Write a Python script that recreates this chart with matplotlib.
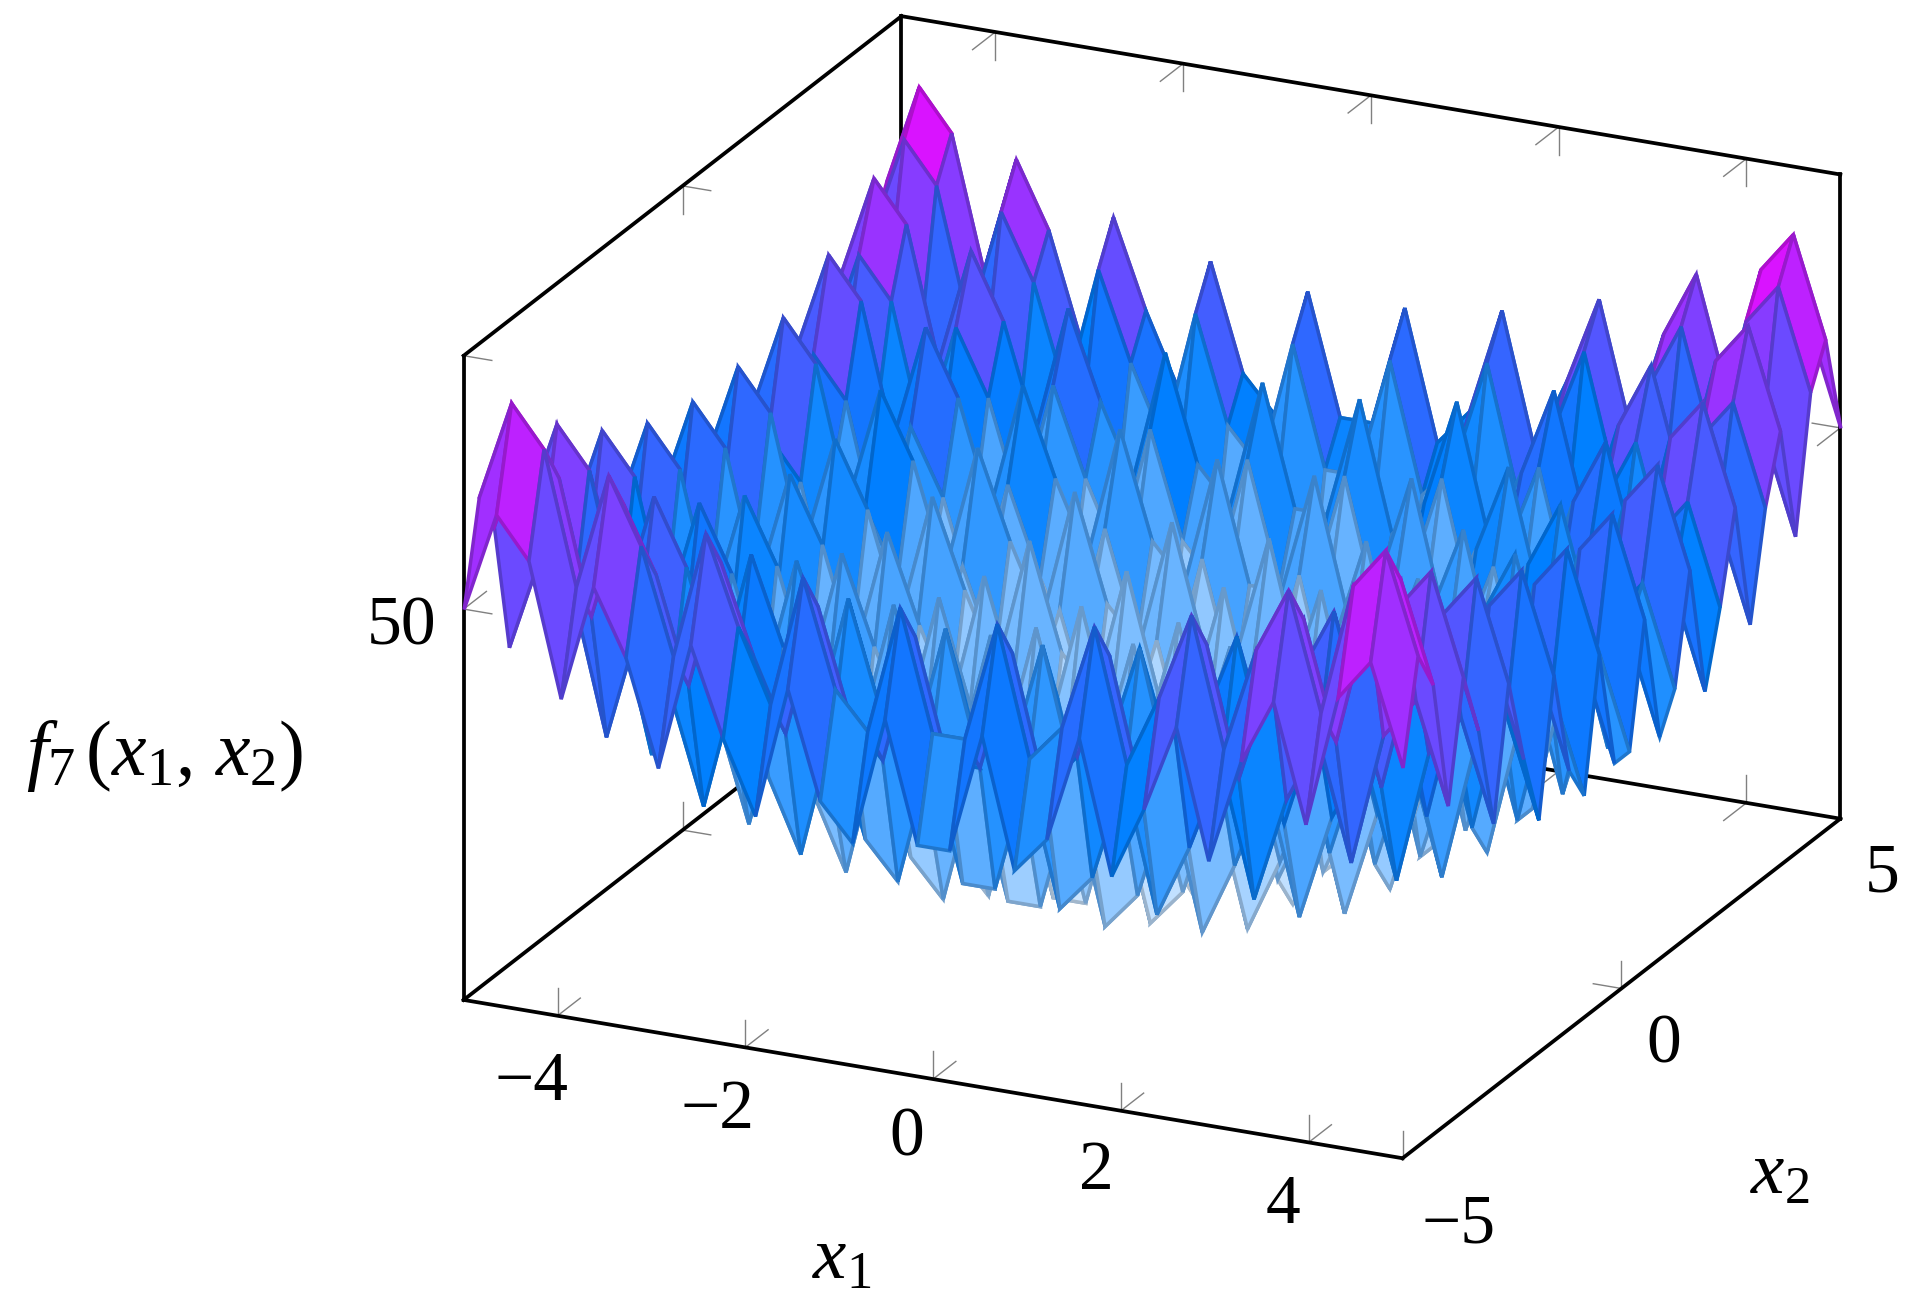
import matplotlib
matplotlib.use('Agg')
import matplotlib.pyplot as plt
from matplotlib.colors import LinearSegmentedColormap
from mpl_toolkits.mplot3d.art3d import Poly3DCollection
import numpy as np

plt.rcParams['mathtext.fontset'] = 'custom'
plt.rcParams['mathtext.rm'] = 'Liberation Serif'
plt.rcParams['mathtext.it'] = 'Liberation Serif:italic'
plt.rcParams['font.family'] = ['Liberation Serif', 'DejaVu Serif']

W, H = 1911, 1315

x1_grid = [-5.0, -4.655, -4.31, -3.966, -3.621, -3.276, -2.931, -2.586, -2.241, -1.897,
           -1.552, -1.207, -0.862, -0.517, -0.172, 0.172, 0.517, 0.862, 1.207, 1.552,
           1.897, 2.241, 2.586, 2.931, 3.276, 3.621, 3.966, 4.31, 4.655, 5.0]
x2_grid = list(x1_grid)

# surface heights, one row per x2 value
f7_rows = [
    [50.0,62.3,57.3,41.0,55.4,47.4,34.5,50.3,39.5,30.6,46.9,33.8,29.3,45.2,30.4,30.4,45.2,29.3,33.8,46.9,30.6,39.5,50.3,34.5,47.4,55.4,41.0,57.3,62.3,50.0],
    [62.3,74.6,69.6,53.3,67.7,59.7,46.8,62.6,51.8,42.9,59.2,46.1,41.6,57.5,42.7,42.7,57.5,41.6,46.1,59.2,42.9,51.8,62.6,46.8,59.7,67.7,53.3,69.6,74.6,62.3],
    [57.3,69.6,64.6,48.3,62.7,54.7,41.8,57.6,46.8,37.9,54.2,41.1,36.6,52.5,37.7,37.7,52.5,36.6,41.1,54.2,37.9,46.8,57.6,41.8,54.7,62.7,48.3,64.6,69.6,57.3],
    [41.0,53.3,48.3,32.0,46.4,38.4,25.5,41.3,30.5,21.6,37.9,24.8,20.3,36.2,21.4,21.4,36.2,20.3,24.8,37.9,21.6,30.5,41.3,25.5,38.4,46.4,32.0,48.3,53.3,41.0],
    [55.4,67.7,62.7,46.4,60.8,52.8,39.9,55.7,44.9,36.0,52.3,39.2,34.7,50.6,35.8,35.8,50.6,34.7,39.2,52.3,36.0,44.9,55.7,39.9,52.8,60.8,46.4,62.7,67.7,55.4],
    [47.4,59.7,54.7,38.4,52.8,44.8,31.9,47.7,36.9,28.0,44.3,31.2,26.7,42.6,27.8,27.8,42.6,26.7,31.2,44.3,28.0,36.9,47.7,31.9,44.8,52.8,38.4,54.7,59.7,47.4],
    [34.5,46.8,41.8,25.5,39.9,31.9,19.0,34.8,24.0,15.1,31.4,18.3,13.8,29.7,14.9,14.9,29.7,13.8,18.3,31.4,15.1,24.0,34.8,19.0,31.9,39.9,25.5,41.8,46.8,34.5],
    [50.3,62.6,57.6,41.3,55.7,47.7,34.8,50.6,39.8,30.9,47.2,34.1,29.6,45.5,30.7,30.7,45.5,29.6,34.1,47.2,30.9,39.8,50.6,34.8,47.7,55.7,41.3,57.6,62.6,50.3],
    [39.5,51.8,46.8,30.5,44.9,36.9,24.0,39.8,29.0,20.1,36.4,23.3,18.8,34.7,19.9,19.9,34.7,18.8,23.3,36.4,20.1,29.0,39.8,24.0,36.9,44.9,30.5,46.8,51.8,39.5],
    [30.6,42.9,37.9,21.6,36.0,28.0,15.1,30.9,20.1,11.2,27.5,14.4,9.9,25.8,11.0,11.0,25.8,9.9,14.4,27.5,11.2,20.1,30.9,15.1,28.0,36.0,21.6,37.9,42.9,30.6],
    [46.9,59.2,54.2,37.9,52.3,44.3,31.4,47.2,36.4,27.5,43.8,30.7,26.2,42.1,27.3,27.3,42.1,26.2,30.7,43.8,27.5,36.4,47.2,31.4,44.3,52.3,37.9,54.2,59.2,46.9],
    [33.8,46.1,41.1,24.8,39.2,31.2,18.3,34.1,23.3,14.4,30.7,17.6,13.1,29.0,14.2,14.2,29.0,13.1,17.6,30.7,14.4,23.3,34.1,18.3,31.2,39.2,24.8,41.1,46.1,33.8],
    [29.3,41.6,36.6,20.3,34.7,26.7,13.8,29.6,18.8,9.9,26.2,13.1,8.6,24.5,9.7,9.7,24.5,8.6,13.1,26.2,9.9,18.8,29.6,13.8,26.7,34.7,20.3,36.6,41.6,29.3],
    [45.2,57.5,52.5,36.2,50.6,42.6,29.7,45.5,34.7,25.8,42.1,29.0,24.5,40.4,25.6,25.6,40.4,24.5,29.0,42.1,25.8,34.7,45.5,29.7,42.6,50.6,36.2,52.5,57.5,45.2],
    [30.4,42.7,37.7,21.4,35.8,27.8,14.9,30.7,19.9,11.0,27.3,14.2,9.7,25.6,10.8,10.8,25.6,9.7,14.2,27.3,11.0,19.9,30.7,14.9,27.8,35.8,21.4,37.7,42.7,30.4],
    [30.4,42.7,37.7,21.4,35.8,27.8,14.9,30.7,19.9,11.0,27.3,14.2,9.7,25.6,10.8,10.8,25.6,9.7,14.2,27.3,11.0,19.9,30.7,14.9,27.8,35.8,21.4,37.7,42.7,30.4],
    [45.2,57.5,52.5,36.2,50.6,42.6,29.7,45.5,34.7,25.8,42.1,29.0,24.5,40.4,25.6,25.6,40.4,24.5,29.0,42.1,25.8,34.7,45.5,29.7,42.6,50.6,36.2,52.5,57.5,45.2],
    [29.3,41.6,36.6,20.3,34.7,26.7,13.8,29.6,18.8,9.9,26.2,13.1,8.6,24.5,9.7,9.7,24.5,8.6,13.1,26.2,9.9,18.8,29.6,13.8,26.7,34.7,20.3,36.6,41.6,29.3],
    [33.8,46.1,41.1,24.8,39.2,31.2,18.3,34.1,23.3,14.4,30.7,17.6,13.1,29.0,14.2,14.2,29.0,13.1,17.6,30.7,14.4,23.3,34.1,18.3,31.2,39.2,24.8,41.1,46.1,33.8],
    [46.9,59.2,54.2,37.9,52.3,44.3,31.4,47.2,36.4,27.5,43.8,30.7,26.2,42.1,27.3,27.3,42.1,26.2,30.7,43.8,27.5,36.4,47.2,31.4,44.3,52.3,37.9,54.2,59.2,46.9],
    [30.6,42.9,37.9,21.6,36.0,28.0,15.1,30.9,20.1,11.2,27.5,14.4,9.9,25.8,11.0,11.0,25.8,9.9,14.4,27.5,11.2,20.1,30.9,15.1,28.0,36.0,21.6,37.9,42.9,30.6],
    [39.5,51.8,46.8,30.5,44.9,36.9,24.0,39.8,29.0,20.1,36.4,23.3,18.8,34.7,19.9,19.9,34.7,18.8,23.3,36.4,20.1,29.0,39.8,24.0,36.9,44.9,30.5,46.8,51.8,39.5],
    [50.3,62.6,57.6,41.3,55.7,47.7,34.8,50.6,39.8,30.9,47.2,34.1,29.6,45.5,30.7,30.7,45.5,29.6,34.1,47.2,30.9,39.8,50.6,34.8,47.7,55.7,41.3,57.6,62.6,50.3],
    [34.5,46.8,41.8,25.5,39.9,31.9,19.0,34.8,24.0,15.1,31.4,18.3,13.8,29.7,14.9,14.9,29.7,13.8,18.3,31.4,15.1,24.0,34.8,19.0,31.9,39.9,25.5,41.8,46.8,34.5],
    [47.4,59.7,54.7,38.4,52.8,44.8,31.9,47.7,36.9,28.0,44.3,31.2,26.7,42.6,27.8,27.8,42.6,26.7,31.2,44.3,28.0,36.9,47.7,31.9,44.8,52.8,38.4,54.7,59.7,47.4],
    [55.4,67.7,62.7,46.4,60.8,52.8,39.9,55.7,44.9,36.0,52.3,39.2,34.7,50.6,35.8,35.8,50.6,34.7,39.2,52.3,36.0,44.9,55.7,39.9,52.8,60.8,46.4,62.7,67.7,55.4],
    [41.0,53.3,48.3,32.0,46.4,38.4,25.5,41.3,30.5,21.6,37.9,24.8,20.3,36.2,21.4,21.4,36.2,20.3,24.8,37.9,21.6,30.5,41.3,25.5,38.4,46.4,32.0,48.3,53.3,41.0],
    [57.3,69.6,64.6,48.3,62.7,54.7,41.8,57.6,46.8,37.9,54.2,41.1,36.6,52.5,37.7,37.7,52.5,36.6,41.1,54.2,37.9,46.8,57.6,41.8,54.7,62.7,48.3,64.6,69.6,57.3],
    [62.3,74.6,69.6,53.3,67.7,59.7,46.8,62.6,51.8,42.9,59.2,46.1,41.6,57.5,42.7,42.7,57.5,41.6,46.1,59.2,42.9,51.8,62.6,46.8,59.7,67.7,53.3,69.6,74.6,62.3],
    [50.0,62.3,57.3,41.0,55.4,47.4,34.5,50.3,39.5,30.6,46.9,33.8,29.3,45.2,30.4,30.4,45.2,29.3,33.8,46.9,30.6,39.5,50.3,34.5,47.4,55.4,41.0,57.3,62.3,50.0],
]

x1_ticks = [-4, -2, 0, 2, 4]
x2_ticks = [-5, 0, 5]
z_ticks = [50]
x1_lim = (-5, 5)
x2_lim = (-5, 5)
z_lim = (1.94, 81.16)

# tick mark lengths in data units
len1, len2, lenz = 0.30, 0.52, 3.4
tick_color = '#808080'

fig = plt.figure(figsize=(W / 100, H / 100), dpi=100)
# axes are square in pixels, placed so the box lands where it does in the reference
S = 1572.5
ax = fig.add_axes([344.5 / W, -79.7 / H, S / W, S / H], projection='3d', proj_type='ortho',
                  computed_zorder=False)
ax.view_init(elev=21.2, azim=-65)
ax.set_box_aspect((1, 1, 0.667))
ax.set_xlim(x1_lim)
ax.set_ylim(x2_lim)
ax.set_zlim(z_lim)
ax.set_axis_off()

lo1, hi1 = x1_lim
lo2, hi2 = x2_lim
loz, hiz = z_lim


def seg(a, b, **kw):
    ax.plot([a[0], b[0]], [a[1], b[1]], [a[2], b[2]], **kw)


box_edges = [
    ((lo1, lo2, loz), (hi1, lo2, loz)),
    ((hi1, lo2, loz), (hi1, hi2, loz)),
    ((lo1, lo2, loz), (lo1, hi2, loz)),
    ((lo1, hi2, loz), (hi1, hi2, loz)),
    ((lo1, lo2, loz), (lo1, lo2, hiz)),
    ((lo1, hi2, loz), (lo1, hi2, hiz)),
    ((hi1, hi2, loz), (hi1, hi2, hiz)),
    ((lo1, lo2, hiz), (lo1, hi2, hiz)),
    ((lo1, hi2, hiz), (hi1, hi2, hiz)),
]
for a, b in box_edges:
    seg(a, b, color='black', lw=2.7, solid_capstyle='projecting', zorder=1)

tick_kw = dict(color=tick_color, lw=1.0, zorder=0.5)
for t in x1_ticks:
    for y, z, d2, dz in [(lo2, loz, len2, lenz), (hi2, loz, -len2, lenz), (hi2, hiz, -len2, -lenz)]:
        seg((t, y, z), (t, y + d2, z), **tick_kw)
        seg((t, y, z), (t, y, z + dz), **tick_kw)
for t in x2_ticks:
    for x, z, d1, dz in [(hi1, loz, -len1, lenz), (lo1, loz, len1, lenz), (lo1, hiz, len1, -lenz)]:
        seg((x, t, z), (x + d1, t, z), **tick_kw)
        seg((x, t, z), (x, t, z + dz), **tick_kw)
for t in z_ticks:
    for x, y, d1, d2 in [(lo1, lo2, len1, len2), (hi1, hi2, -len1, -len2), (lo1, hi2, len1, -len2)]:
        seg((x, y, t), (x + d1, y, t), **tick_kw)
        seg((x, y, t), (x, y + d2, t), **tick_kw)

cmap = LinearSegmentedColormap.from_list('f7map', [(1, 1, 1), (0, 0.5, 1), (1, 0, 1)])
Z = np.array(f7_rows)
zmin, zmax = Z.min(), Z.max()

# back to front, like the painter order of the original
order = 2.0
for i in range(len(x2_grid) - 2, -1, -1):
    for j in range(len(x1_grid) - 1):
        zs = [Z[i, j], Z[i, j + 1], Z[i + 1, j + 1], Z[i + 1, j]]
        quad = [(x1_grid[j], x2_grid[i], zs[0]),
                (x1_grid[j + 1], x2_grid[i], zs[1]),
                (x1_grid[j + 1], x2_grid[i + 1], zs[2]),
                (x1_grid[j], x2_grid[i + 1], zs[3])]
        col = np.array(cmap((np.mean(zs) - zmin) / (zmax - zmin)))
        edge = col * 0.8
        edge[3] = 1.0
        poly = Poly3DCollection([quad], facecolors=[col], edgecolors=[edge], linewidths=2.5,
                                joinstyle='miter', zorder=order)
        ax.add_collection3d(poly, autolim=False)
        order += 0.001

fs = 50


def label(px, py, s, size=fs):
    fig.text(px / W, 1 - py / H, s, fontsize=size, ha='center', va='center')


x1_label_pos = [(531, 1083), (718, 1111), (907, 1139), (1096, 1172), (1283, 1206)]
for t, p in zip(x1_ticks, x1_label_pos):
    label(p[0], p[1], str(t).replace('-', '\u2212'))
x2_label_pos = [(1459, 1226), (1664, 1046), (1882, 875)]
for t, p in zip(x2_ticks, x2_label_pos):
    label(p[0], p[1], str(t).replace('-', '\u2212'))
label(402, 628, '50')
label(842, 1261, r'$x_1$', size=54)
label(1780, 1176, r'$x_2$', size=54)
label(165, 756, r'$f_7\,(x_1,\,x_2)$', size=56)

fig.savefig('out.png', dpi=100)
